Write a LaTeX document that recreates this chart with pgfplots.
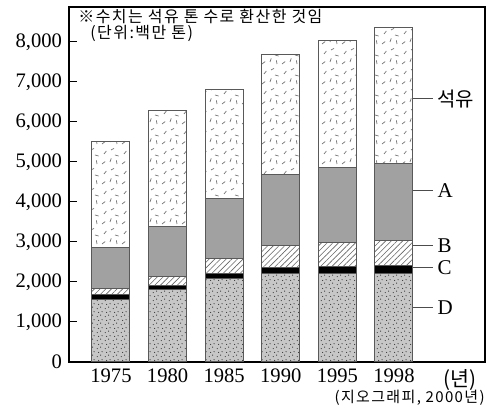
\documentclass[border=0pt]{standalone}
\usepackage{fontspec}
\setmainfont{Liberation Serif}
\usepackage{pgfplots}
\pgfplotsset{compat=1.18}
\usetikzlibrary{patterns,patterns.meta}
\newfontfamily\cjk{Noto Sans CJK KR}
\newfontfamily\cjkwide[LetterSpace=9]{Noto Sans CJK KR}

\pgfdeclarepatternformonly{oilstrokes}{\pgfqpoint{-1pt}{-1pt}}{\pgfqpoint{11pt}{11pt}}{\pgfqpoint{10pt}{10pt}}{%
 \pgfsetlinewidth{0.35pt}%
 \pgfpathmoveto{\pgfqpoint{1pt}{1pt}}\pgfpathlineto{\pgfqpoint{2.6pt}{2.2pt}}%
 \pgfpathmoveto{\pgfqpoint{5pt}{2pt}}\pgfpathlineto{\pgfqpoint{5.6pt}{3.8pt}}%
 \pgfpathmoveto{\pgfqpoint{7.5pt}{5.5pt}}\pgfpathlineto{\pgfqpoint{9.3pt}{5pt}}%
 \pgfpathmoveto{\pgfqpoint{2pt}{6pt}}\pgfpathlineto{\pgfqpoint{3.2pt}{7.5pt}}%
 \pgfpathmoveto{\pgfqpoint{5.5pt}{8pt}}\pgfpathlineto{\pgfqpoint{7pt}{8.8pt}}%
 \pgfpathmoveto{\pgfqpoint{8.5pt}{1pt}}\pgfpathlineto{\pgfqpoint{8.2pt}{2.8pt}}%
 \pgfusepath{stroke}%
}
\pgfdeclarepatternformonly{grain}{\pgfqpoint{0pt}{0pt}}{\pgfqpoint{4pt}{4pt}}{\pgfqpoint{4pt}{4pt}}{%
 \pgfpathcircle{\pgfqpoint{0.7pt}{0.8pt}}{0.3pt}%
 \pgfpathcircle{\pgfqpoint{2.6pt}{1.6pt}}{0.3pt}%
 \pgfpathcircle{\pgfqpoint{1.5pt}{3.1pt}}{0.3pt}%
 \pgfpathcircle{\pgfqpoint{3.4pt}{3.5pt}}{0.3pt}%
 \pgfusepath{fill}%
}

\begin{document}
\begin{tikzpicture}
\begin{axis}[
  scale only axis, width=208pt, height=177.5pt,
  xmin=-0.742, xmax=6.608, ymin=0, ymax=8875,
  ybar stacked, bar width=19pt,
  xtick={0,1,2,3,4,5},
  xticklabels={1975,1980,1985,1990,1995,1998},
  extra x ticks={6.17},
  extra x tick labels={{\cjk (년)}},
  extra x tick style={major tick length=0pt},
  xtick style={draw=none},
  ytick={0,1000,...,8000}, ytick pos=left,
  tick align=inside, major tick length=4pt,
  scaled y ticks=false,
  /pgf/number format/assume math mode=true,
  tick label style={font=\fontsize{10.3}{12}\selectfont},
  axis line style={line width=0.6pt},
  every tick/.style={black, line width=0.5pt},
  clip=false,
]
% D
\addplot[fill=black!22, draw=black!65, line width=0.5pt,
  postaction={pattern=grain, pattern color=black!85}]
  coordinates {(0,1550) (1,1815) (2,2090) (3,2215) (4,2200) (5,2215)};
% C
\addplot[fill=black, draw=black!65, line width=0.5pt]
  coordinates {(0,125) (1,85) (2,125) (3,150) (4,185) (5,195)};
% B
\addplot[fill=white, draw=black!65, line width=0.5pt,
  postaction={pattern={Lines[angle=45,distance=2pt,line width=0.3pt]}, pattern color=black!60}]
  coordinates {(0,170) (1,235) (2,375) (3,540) (4,610) (5,625)};
% A
\addplot[fill=black!37, draw=black!65, line width=0.5pt]
  coordinates {(0,1010) (1,1250) (2,1500) (3,1770) (4,1875) (5,1930)};
% Oil
\addplot[fill=white, draw=black!65, line width=0.5pt,
  postaction={pattern=oilstrokes, pattern color=black!55}]
  coordinates {(0,2650) (1,2900) (2,2725) (3,3015) (4,3165) (5,3390)};

% right labels
\draw[black!70, line width=0.5pt] (axis cs:5.335,6575) -- (axis cs:5.69,6575)
  node[anchor=west, black, inner sep=2pt, font=\cjk\fontsize{10}{12}\selectfont]{석유};
\draw[black!70, line width=0.5pt] (axis cs:5.335,4275) -- (axis cs:5.69,4275)
  node[anchor=west, black, inner sep=2pt, font=\fontsize{10.5}{13}\selectfont]{A};
\draw[black!70, line width=0.5pt] (axis cs:5.335,2900) -- (axis cs:5.69,2900)
  node[anchor=west, black, inner sep=2pt, font=\fontsize{10.5}{13}\selectfont]{B};
\draw[black!70, line width=0.5pt] (axis cs:5.335,2350) -- (axis cs:5.69,2350)
  node[anchor=west, black, inner sep=2pt, font=\fontsize{10.5}{13}\selectfont]{C};
\draw[black!70, line width=0.5pt] (axis cs:5.335,1350) -- (axis cs:5.69,1350)
  node[anchor=west, black, inner sep=2pt, font=\fontsize{10.5}{13}\selectfont]{D};

% note
\node[anchor=west, inner sep=0, font=\cjkwide\fontsize{8}{9}\selectfont]
  at ([xshift=4.5pt,yshift=-4.5pt]rel axis cs:0,1) {※수치는 석유 톤 수로 환산한 것임};
\node[anchor=west, inner sep=0, font=\cjkwide\fontsize{8}{9}\selectfont]
  at ([xshift=10.5pt,yshift=-13pt]rel axis cs:0,1) {(단위:백만 톤)};

% source
\node[anchor=south east, inner sep=0, font=\cjkwide\fontsize{7.5}{9}\selectfont]
  at ([yshift=-22pt]rel axis cs:1,0) {(지오그래피, 2000년)};

\path ([xshift=-34.5pt,yshift=-22pt]rel axis cs:0,0) rectangle ([xshift=1pt,yshift=3.5pt]rel axis cs:1,1);
\end{axis}
\end{tikzpicture}
\end{document}
